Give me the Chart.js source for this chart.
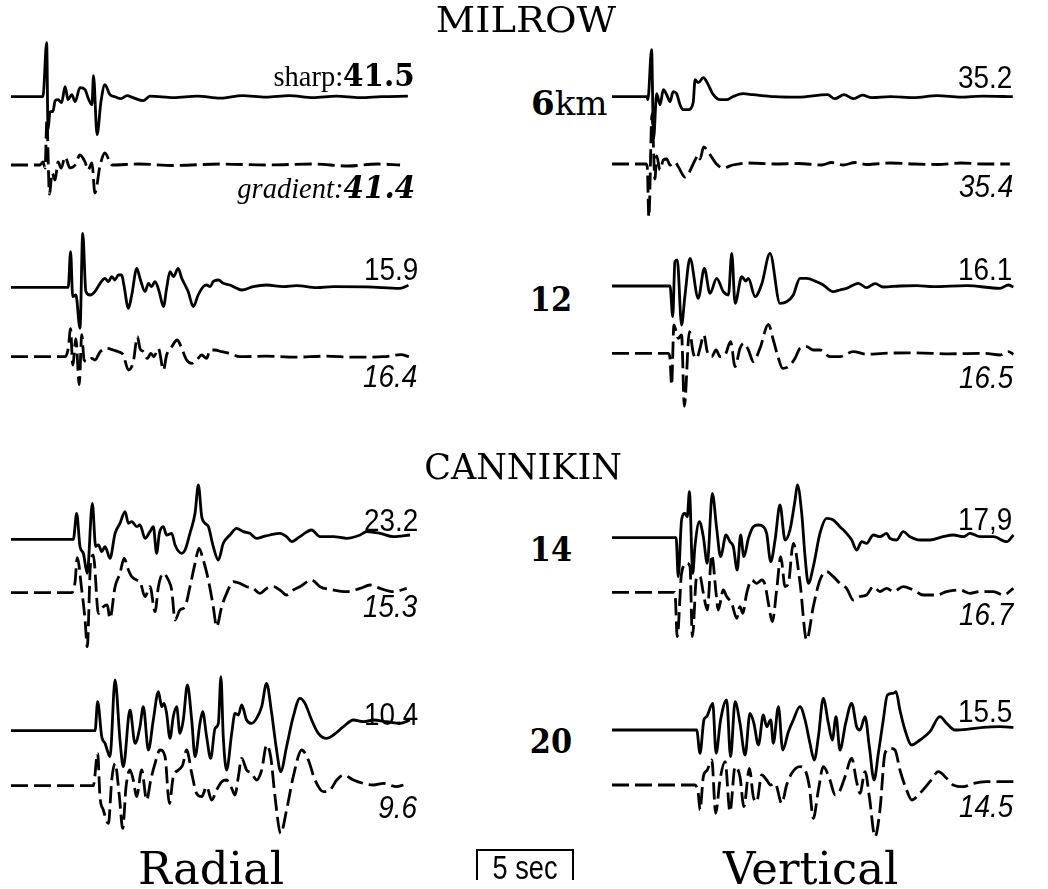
<!DOCTYPE html>
<html>
<head>
<meta charset="utf-8">
<title>MILROW / CANNIKIN synthetic seismograms</title>
<script src="https://cdn.jsdelivr.net/npm/chart.js@4.4.0/dist/chart.umd.min.js"></script>
<style>
  html, body { margin: 0; padding: 0; background: #fff; }
  #page { position: relative; width: 1048px; height: 889px; overflow: hidden; background: #fff; }
  #page canvas { position: absolute; top: 0; }
  .lbl { position: absolute; white-space: nowrap; color: #000; }
  #scalebar { position: absolute; box-sizing: border-box; border: 2px solid #000; border-bottom: none; }
</style>
</head>
<body>
<div id="page">
  <canvas id="radialChart" width="410" height="889" style="left:11px"></canvas>
  <canvas id="verticalChart" width="410" height="889" style="left:612px"></canvas>
  <div id="scalebar"></div>
</div>
<script>
// each trace: [time (s), amplitude]
// solid = sharp boundary model, dashed = gradient model

// ---- MILROW, 6 km ----
const milrow6RadialSharp = [[0,0],[1.63,0],[1.82,5.4],[1.89,-3.3],[1.99,-1.5],[2.14,-1.5],[2.25,-0.4],[2.40,-0.3],[2.58,-0.6],[2.76,1.0],[2.91,-0.3],[3.10,0.2],[3.27,-0.5],[3.52,0.9],[3.78,0.7],[3.93,-0.1],[4.13,-0.8],[4.21,2.1],[4.39,-3.8],[4.59,-0.5],[4.79,1.2],[5.05,0.2],[5.30,0],[5.61,-0.2],[5.92,0.1],[6.23,-0.1],[6.74,-0.4],[7.09,0.05],[8.3,-0.1],[9.5,0.05],[10.7,-0.15],[11.8,0.1],[13.0,-0.05],[14.2,0.1],[15.4,-0.1],[16.6,0.05],[17.8,-0.1],[18.9,0],[20.25,0.05]];
const milrow6RadialGradient = [[0,0],[1.48,0],[1.63,0.3],[1.74,-0.3],[1.83,4.5],[1.96,-2.9],[2.10,-0.8],[2.25,-1.5],[2.40,0.3],[2.56,-0.3],[2.76,0.8],[3.01,-0.3],[3.27,0],[3.52,1.0],[3.78,0.3],[3.93,-0.5],[4.13,0.2],[4.28,-2.8],[4.55,0],[4.79,1.2],[5.15,0],[6.5,0.1],[8.3,-0.05],[10.7,0.1],[13.0,0],[15.4,0.1],[17.2,-0.1],[18.7,0.1],[19.85,0]];
const milrow6VerticalSharp = [[0,0],[1.78,0],[1.83,-0.3],[2.02,4.7],[2.12,-4.2],[2.28,0.3],[2.45,-0.8],[2.62,0.7],[2.79,0.2],[2.96,-0.5],[3.12,0.5],[3.30,0.3],[3.47,-0.8],[3.63,-1.3],[3.89,-1.3],[4.14,-0.6],[4.24,1.7],[4.40,1.4],[4.66,1.9],[4.83,1.5],[5.17,0.2],[5.52,-0.3],[5.85,-0.3],[6.16,0],[6.69,0.3],[7.20,0.2],[8.3,0],[9.5,-0.05],[11.0,0.2],[11.36,-0.2],[11.84,0.2],[12.31,-0.2],[12.78,0.15],[13.26,-0.1],[14.2,0],[15.4,-0.1],[16.6,0.1],[17.8,-0.05],[18.9,0.05],[20.45,0]];
const milrow6VerticalGradient = [[0,0],[1.72,0],[1.80,-0.3],[1.88,-5.3],[2.04,5.0],[2.19,-1.5],[2.28,0.8],[2.45,-0.6],[2.62,0.4],[2.79,0.5],[2.96,-0.1],[3.21,0.2],[3.39,-0.3],[3.72,-1.3],[3.89,-1.0],[4.24,0.4],[4.40,0.9],[4.49,0.5],[4.68,1.7],[4.98,1.0],[5.33,0],[5.68,-0.4],[6.16,-0.1],[6.98,0.1],[8.3,0],[9.5,0.05],[10.7,-0.1],[11.2,0.15],[11.8,-0.1],[12.4,0.15],[13.0,-0.05],[14.2,0.1],[15.4,0],[16.6,-0.05],[17.8,0.1],[18.9,0],[20.3,0]];

// ---- MILROW, 12 km ----
const milrow12RadialSharp = [[0,0],[2.92,0],[3.04,3.57],[3.15,-0.93],[3.31,-0.77],[3.52,-4.1],[3.66,5.4],[3.82,-0.43],[4.04,-0.77],[4.28,-0.43],[4.55,0.4],[4.79,0.9],[4.97,0.57],[5.14,1.07],[5.30,0.73],[5.48,1.23],[5.65,1.23],[5.76,0.23],[5.99,-2.1],[6.16,-0.77],[6.42,1.9],[6.58,0.9],[6.84,-0.43],[7.01,0.4],[7.17,0.07],[7.35,0.57],[7.56,-0.43],[7.78,-1.93],[7.94,-0.1],[8.11,1.57],[8.29,1.07],[8.53,1.9],[8.71,0.9],[8.88,0.23],[9.04,-0.43],[9.30,-1.93],[9.55,-0.77],[9.81,0.07],[9.98,0.23],[10.16,0.07],[10.32,0.57],[10.58,0.73],[10.83,0.4],[11.17,0.23],[11.52,-0.1],[11.77,-0.27],[12.36,0.07],[13.04,0.23],[13.90,0.07],[14.57,0.17],[15.60,-0.03],[16.45,0.07],[18.15,0.05],[19.85,-0.1],[20.28,0.2]];
const milrow12RadialGradient = [[0,0],[2.76,0],[2.92,0.83],[3.04,2.8],[3.15,-0.83],[3.31,1.8],[3.48,-2.8],[3.61,2.2],[3.73,-0.33],[3.89,-0.5],[4.12,-0.17],[4.28,-0.33],[4.55,0.5],[4.88,0.83],[5.21,0.67],[5.48,0.5],[5.73,0.17],[5.99,-1.33],[6.24,-0.5],[6.45,2.0],[6.58,0.83],[6.75,0.5],[6.96,-0.17],[7.13,0.33],[7.29,0],[7.52,0.83],[7.78,-1.33],[7.94,0.17],[8.20,1.0],[8.48,1.67],[8.71,0.83],[8.96,-0.33],[9.22,-0.67],[9.47,-0.33],[9.73,0.17],[9.98,-0.17],[10.16,0.67],[10.40,0.67],[10.75,0.5],[11.17,0.33],[11.68,0],[13.0,0.05],[14.5,-0.05],[16.0,0.05],[17.5,-0.05],[19.0,0],[19.9,0.2],[20.3,0]];
const milrow12VerticalSharp = [[0,0],[2.96,0],[3.10,-3.07],[3.21,2.43],[3.33,2.6],[3.55,-3.9],[3.72,-1.0],[3.98,2.77],[4.40,-1.23],[4.71,1.77],[5.0,-0.73],[5.34,0.77],[5.68,-0.57],[5.94,-0.9],[6.11,3.27],[6.28,-1.73],[6.62,0.93],[6.82,0.5],[6.96,0.77],[7.30,-1.07],[7.64,0.2],[8.06,3.27],[8.57,-1.73],[8.91,-1.57],[9.25,-0.9],[9.59,0.77],[9.93,0.77],[10.44,0.43],[10.78,0.1],[11.29,-0.57],[11.63,-0.4],[11.97,-0.23],[12.57,0.27],[12.99,-0.17],[13.42,0.23],[13.84,-0.1],[14.69,0],[15.54,0.03],[16.39,-0.07],[18.10,0.03],[19.80,-0.23],[20.22,0.1],[20.48,-0.1]];
const milrow12VerticalGradient = [[0,0],[2.87,0],[2.96,-0.5],[3.04,-3.17],[3.16,2.83],[3.38,1.5],[3.55,1.83],[3.69,-5.3],[3.95,2.17],[4.15,0],[4.32,-0.5],[4.49,0.5],[4.69,1.83],[4.86,0.17],[5.09,-0.33],[5.31,0.33],[5.51,-0.33],[5.77,-0.17],[6.05,1.17],[6.28,-1.33],[6.53,0.5],[6.73,1.0],[6.96,0.33],[7.21,-0.83],[7.55,0.5],[7.98,2.9],[8.23,1.33],[8.49,-0.5],[8.71,-1.5],[9.00,-1.33],[9.34,-0.5],[9.59,0.5],[9.93,0.67],[10.27,0.33],[10.61,0.33],[11.12,-0.33],[11.63,-0.33],[12.31,0.17],[12.99,-0.1],[13.84,0],[15.5,0.05],[17.2,-0.05],[19.0,0],[19.80,-0.17],[20.22,0.17],[20.48,-0.1]];

// ---- CANNIKIN, 14 km ----
const cannikin14RadialSharp = [[0,0],[3.18,0],[3.35,2.6],[3.52,-0.73],[3.69,-1.4],[3.89,-3.4],[4.15,3.6],[4.32,-0.73],[4.46,-0.57],[4.63,-1.23],[4.80,-0.73],[5.05,-1.9],[5.31,0.6],[5.56,1.6],[5.82,2.77],[5.99,1.6],[6.16,1.77],[6.41,1.27],[6.58,1.43],[6.84,0.1],[7.09,0.77],[7.26,1.27],[7.43,-1.4],[7.57,0.6],[7.77,1.27],[7.94,0.43],[8.20,0.6],[8.37,-0.57],[8.71,-1.4],[8.88,-1.07],[9.13,0.6],[9.39,2.6],[9.56,5.43],[9.73,2.27],[9.90,1.6],[10.07,1.27],[10.32,-0.73],[10.58,-2.07],[10.83,-0.4],[11.17,0.43],[11.51,1.1],[11.85,0.77],[12.19,0.6],[12.53,0.1],[12.87,0.27],[13.21,0.43],[13.72,0.6],[14.06,0.27],[14.32,-0.23],[14.74,0.27],[15.34,0.93],[15.77,0.27],[16.45,0.27],[17.13,0.1],[17.81,0.43],[18.15,0.77],[18.83,0.6],[19.51,0.27],[20.36,0.43]];
const cannikin14RadialGradient = [[0,0],[3.10,0],[3.27,1.1],[3.38,3.5],[3.61,0.27],[3.78,-2.73],[3.89,-5.4],[4.06,3.0],[4.20,3.77],[4.46,-2.07],[4.71,-1.4],[4.91,-1.23],[5.05,-2.57],[5.31,0.6],[5.56,1.93],[5.77,3.43],[5.99,2.27],[6.16,1.6],[6.41,1.27],[6.58,1.1],[6.84,-0.4],[7.09,0.6],[7.35,-1.9],[7.52,0.6],[7.77,1.93],[8.03,1.27],[8.20,0.27],[8.37,-2.73],[8.62,-1.73],[8.88,-1.4],[9.13,0.6],[9.39,2.93],[9.59,4.43],[9.81,3.27],[10.07,1.27],[10.32,-1.4],[10.49,-3.4],[10.75,-1.4],[11.00,-0.07],[11.34,1.1],[11.68,0.93],[12.02,0.6],[12.36,0.43],[12.70,-0.07],[13.04,0.43],[13.38,0.6],[13.72,0.27],[14.06,-0.23],[14.40,0.27],[14.74,0.6],[15.34,1.27],[15.77,0.6],[16.45,0.27],[17.13,0.1],[17.81,0.43],[18.32,0.77],[18.83,0.43],[19.51,0.1],[20.19,0.43]];
const cannikin14VerticalSharp = [[0,0],[3.27,0],[3.38,-3.9],[3.55,1.77],[3.72,2.43],[3.84,2.1],[3.95,4.6],[4.12,-3.57],[4.23,-0.9],[4.46,1.6],[4.66,0.1],[4.86,-2.57],[5.12,4.43],[5.34,0.93],[5.54,-1.9],[5.82,0.27],[6.02,-0.4],[6.19,-0.9],[6.39,-3.23],[6.56,0.27],[6.73,-1.9],[6.96,-0.07],[7.21,1.1],[7.47,1.27],[7.72,1.1],[7.89,0.43],[8.10,-2.4],[8.32,-0.23],[8.57,3.27],[8.83,-0.23],[9.08,0.77],[9.34,3.77],[9.46,5.27],[9.68,2.43],[9.85,-1.9],[10.02,-4.57],[10.27,-2.9],[10.61,0.43],[10.95,1.93],[11.29,1.77],[11.63,1.1],[11.97,0.43],[12.23,-0.23],[12.48,-1.23],[12.74,-0.4],[12.99,-0.57],[13.33,0.27],[13.67,0.1],[14.01,0.43],[14.18,-0.07],[14.52,-0.23],[14.86,0.6],[15.20,0.1],[15.71,-0.23],[16.22,-0.23],[16.90,0.1],[17.41,0.27],[17.93,0.1],[18.27,0.43],[18.78,0.1],[19.46,0.1],[20.14,-0.4],[20.48,0.27]];
const cannikin14VerticalGradient = [[0,0],[3.21,0],[3.33,-4.43],[3.55,1.9],[3.81,2.9],[3.98,2.57],[4.10,-4.43],[4.32,1.57],[4.49,1.57],[4.66,-0.1],[4.86,-1.77],[5.09,3.73],[5.31,-0.1],[5.42,-1.77],[5.68,0.23],[5.85,-0.43],[6.11,-1.1],[6.36,-2.6],[6.53,-1.43],[6.67,-2.1],[6.87,-0.1],[7.13,1.23],[7.38,0.9],[7.64,1.23],[7.81,0.73],[7.98,-1.1],[8.18,-2.93],[8.40,0.23],[8.61,3.57],[8.83,0.57],[9.00,0.9],[9.25,4.9],[9.59,1.0],[9.93,-4.77],[10.27,-1.43],[10.61,1.23],[10.95,2.07],[11.29,1.57],[11.63,0.9],[11.97,0.4],[12.31,-0.77],[12.65,-0.43],[12.99,-0.27],[13.33,0.57],[13.67,0.07],[14.01,0.4],[14.35,0.07],[14.86,0.57],[15.37,0.23],[15.88,-0.27],[16.56,-0.27],[17.07,0.07],[17.76,0.23],[18.27,-0.1],[18.78,0.07],[19.46,0.07],[19.97,-0.27],[20.48,0.4]];

// ---- CANNIKIN, 20 km ----
const cannikin20RadialSharp = [[0,0],[4.29,0],[4.42,2.9],[4.63,-0.6],[4.80,-1.27],[5.05,-2.6],[5.31,5.07],[5.56,-0.93],[5.73,-3.6],[6.07,2.07],[6.33,-1.27],[6.58,0.4],[6.75,2.4],[7.01,-1.93],[7.26,1.07],[7.52,3.9],[7.69,2.4],[7.81,2.73],[7.94,1.73],[8.11,-0.77],[8.28,1.4],[8.45,2.4],[8.62,-0.27],[8.79,1.07],[9.00,4.57],[9.22,1.07],[9.39,-2.6],[9.64,0.73],[9.78,1.9],[9.98,-0.6],[10.19,-2.77],[10.41,0.23],[10.58,0.73],[10.71,5.4],[10.83,-0.6],[11.00,-3.93],[11.26,-0.27],[11.43,1.73],[11.60,1.57],[11.77,2.57],[12.02,1.07],[12.28,0.73],[12.53,1.23],[12.79,2.4],[13.04,4.73],[13.30,1.73],[13.55,-1.93],[13.76,-4.1],[14.06,-1.6],[14.40,1.4],[14.74,3.23],[15.0,2.73],[15.34,1.07],[15.68,-0.27],[16.11,-0.77],[16.45,-0.43],[16.96,0.4],[17.47,1.07],[17.98,0.9],[18.49,1.07],[19.17,0.9],[19.85,0.73],[20.36,1.07]];
const cannikin20RadialGradient = [[0,0],[4.20,0],[4.42,3.23],[4.54,-1.1],[4.71,-2.43],[4.97,-3.77],[5.14,0.57],[5.31,2.23],[5.53,-1.1],[5.70,-4.27],[5.87,-0.1],[6.07,1.57],[6.24,0.57],[6.41,-1.1],[6.67,1.57],[6.92,-1.43],[7.13,0.57],[7.35,2.23],[7.60,3.57],[7.86,2.9],[8.08,-1.77],[8.28,0.9],[8.54,1.57],[8.76,2.07],[8.96,3.57],[9.22,1.23],[9.47,-0.77],[9.73,-1.1],[9.98,-0.1],[10.24,-1.43],[10.49,-0.43],[10.75,0.4],[11.00,0.57],[11.26,-0.27],[11.43,-0.93],[11.60,0.9],[11.77,2.73],[12.02,1.57],[12.28,1.23],[12.53,0.57],[12.79,1.57],[13.04,4.07],[13.25,2.9],[13.47,-1.1],[13.76,-4.77],[14.06,-2.43],[14.40,0.9],[14.83,3.57],[15.17,2.57],[15.51,0.57],[15.94,-0.6],[16.28,-0.43],[16.62,0.57],[16.96,1.07],[17.47,0.57],[17.98,0.23],[18.49,0.07],[19.00,0.23],[19.68,-0.1],[20.02,0.07]];
const cannikin20VerticalSharp = [[0,0],[4.32,0],[4.49,-2.33],[4.69,1.0],[4.83,1.33],[5.14,2.67],[5.31,-2.33],[5.54,1.0],[5.85,3.0],[6.05,-2.67],[6.28,2.83],[6.53,0.67],[6.79,-2.5],[7.04,1.67],[7.24,0.67],[7.47,-1.5],[7.72,1.5],[7.89,0.33],[8.10,1.0],[8.23,-1.33],[8.49,2.33],[8.71,-2.0],[9.00,-0.17],[9.25,1.0],[9.59,2.33],[9.85,1.0],[10.10,-1.33],[10.32,-3.0],[10.53,-0.67],[10.78,3.17],[11.04,0.67],[11.24,-1.0],[11.43,1.33],[11.63,-2.0],[11.92,0.67],[12.23,2.67],[12.48,0.33],[12.65,0],[12.91,1.33],[13.13,-1.67],[13.37,-5.0],[13.59,-2.33],[13.84,1.0],[14.05,3.5],[14.35,3.67],[14.49,3.83],[14.69,2.0],[14.95,0],[15.29,-1.5],[15.71,-1.0],[16.22,-0.17],[16.73,1.33],[17.07,0.67],[17.50,0],[18.10,0.07],[18.95,0.27],[19.80,0.33],[20.48,0.27]];
const cannikin20VerticalGradient = [[0,0],[4.23,0],[4.40,-0.83],[4.49,-2.5],[4.66,0.83],[4.86,1.5],[5.09,2.5],[5.29,-2.83],[5.51,0.5],[5.77,2.33],[6.02,-2.67],[6.28,1.83],[6.53,0.83],[6.73,-2.17],[7.01,1.67],[7.21,-1.17],[7.38,-1.67],[7.64,1.0],[7.89,0.5],[8.10,0],[8.32,0.17],[8.66,-1.83],[8.91,0],[9.17,1.17],[9.59,1.83],[9.85,1.5],[10.07,-0.17],[10.27,-3.33],[10.53,-0.5],[10.78,1.83],[11.12,0.5],[11.38,-1.0],[11.60,-0.67],[11.89,0.83],[12.23,2.67],[12.48,0.33],[12.65,-0.83],[12.91,1.33],[13.13,-1.17],[13.42,-5.17],[13.67,-2.5],[13.93,3.17],[14.18,3.67],[14.44,3.5],[14.69,1.5],[15.03,-0.5],[15.29,-1.5],[15.71,-0.83],[16.22,0.33],[16.65,1.33],[17.07,0.67],[17.41,0],[17.93,-0.17],[18.44,0.17],[19.12,0.33],[19.80,0.33],[20.48,0.33]];

// labels
const eventNames = ['MILROW', 'CANNIKIN'];
const distancesKm = ['6', '12', '14', '20'];
const radialSharpFit = ['41.5', '15.9', '23.2', '10.4'];
const radialGradientFit = ['41.4', '16.4', '15.3', '9.6'];
const verticalSharpFit = ['35.2', '16.1', '17,9', '15.5'];
const verticalGradientFit = ['35.4', '16.5', '16.7', '14.5'];
const componentNames = ['Radial', 'Vertical'];
const scaleBarSeconds = 5;

// ---- layout ----
const PAGE_W = 1048, PAGE_H = 889;
const PX_PER_SEC = 19.6;   // from the 5 sec bar
const AMP_PX = 10;         // pixels per amplitude unit

// zero lines of each trace, px from top
const radialRows = { solid: [96.7, 287.3, 539.3, 730.7], dashed: [165, 356.7, 592.7, 785.7] };
const verticalRows = { solid: [96.7, 286, 537.7, 730], dashed: [164, 353.3, 592.3, 785] };

function traceDataset(points, zeroPx, dashed) {
    return {
        data: points.map(([t, a]) => ({ x: t, y: a - zeroPx / AMP_PX })),
        borderColor: '#000',
        borderWidth: 2.8,
        borderDash: dashed ? [17, 6] : [],
        borderJoinStyle: 'round',
        pointRadius: 0,
        cubicInterpolationMode: 'monotone',
        fill: false,
        clip: false
    };
}

function drawColumn(canvasId, sharpTraces, gradientTraces, rows) {
    const canvas = document.getElementById(canvasId);
    const datasets = [];
    sharpTraces.forEach((tr, i) => datasets.push(traceDataset(tr, rows.solid[i], false)));
    gradientTraces.forEach((tr, i) => datasets.push(traceDataset(tr, rows.dashed[i], true)));

    return new Chart(canvas, {
        type: 'line',
        data: { datasets: datasets },
        options: {
            responsive: false,
            animation: false,
            events: [],
            layout: { padding: 0 },
            plugins: { legend: { display: false }, tooltip: { enabled: false }, title: { display: false } },
            scales: {
                x: { type: 'linear', display: false, min: 0, max: canvas.width / PX_PER_SEC },
                y: { type: 'linear', display: false, min: -PAGE_H / AMP_PX, max: 0 }
            }
        }
    });
}

drawColumn('radialChart',
    [milrow6RadialSharp, milrow12RadialSharp, cannikin14RadialSharp, cannikin20RadialSharp],
    [milrow6RadialGradient, milrow12RadialGradient, cannikin14RadialGradient, cannikin20RadialGradient],
    radialRows);
drawColumn('verticalChart',
    [milrow6VerticalSharp, milrow12VerticalSharp, cannikin14VerticalSharp, cannikin20VerticalSharp],
    [milrow6VerticalGradient, milrow12VerticalGradient, cannikin14VerticalGradient, cannikin20VerticalGradient],
    verticalRows);

// ---- text ----
const page = document.getElementById('page');
const SERIF = "'DejaVu Serif', serif";
const SANS = "'Liberation Sans', Arial, sans-serif";

function addText(html, x, baseline, o) {
    const el = document.createElement('div');
    el.className = 'lbl';
    el.innerHTML = html;
    el.style.font = `${o.style || 'normal'} ${o.weight || 'normal'} ${o.size}px/1 ${o.family}`;
    el.style.top = (baseline - 0.846 * o.size) + 'px';
    const sx = o.scaleX || 1;
    if (o.align === 'right') {
        el.style.right = (PAGE_W - x) + 'px';
        el.style.transformOrigin = 'right center';
        el.style.transform = `scaleX(${sx})`;
    } else if (o.align === 'center') {
        el.style.left = x + 'px';
        el.style.transform = `translateX(-50%) scaleX(${sx})`;
    } else {
        el.style.left = x + 'px';
        el.style.transformOrigin = 'left center';
        el.style.transform = `scaleX(${sx})`;
    }
    page.appendChild(el);
    return el;
}

// event titles
addText(eventNames[0], 526, 33, { size: 35, family: SERIF, align: 'center', scaleX: 1.1 });
addText(eventNames[1], 523, 480, { size: 35, family: SERIF, align: 'center', scaleX: 1.0 });

// distances
addText(`<b>${distancesKm[0]}</b>km`, 531, 115, { size: 34, family: SERIF });
const distBaselines = [311, 561, 753];
distancesKm.slice(1).forEach((d, i) => {
    addText(d, 551, distBaselines[i], { size: 33, weight: 'bold', family: SERIF, align: 'center', scaleX: 0.92 });
});

// fit numbers at the right end of each trace
const numFont = { size: 31, family: SANS, align: 'right', scaleX: 0.9 };
const numFontIt = Object.assign({}, numFont, { style: 'italic' });
const radialLabelBase = { solid: [86, 280, 531, 725], dashed: [198, 387, 617, 818] };
const verticalLabelBase = { solid: [88, 280, 530, 722], dashed: [197, 388, 625, 817] };

addText(`<span style="font:30px/1 'Liberation Serif',serif">sharp:</span><span style="font:bold 31px/1 ${SERIF}">${radialSharpFit[0]}</span>`,
    415, radialLabelBase.solid[0], { size: 31, family: SERIF, align: 'right', scaleX: 0.95 });
addText(`<span style="font:italic 30px/1 'Liberation Serif',serif">gradient:</span><span style="font:italic bold 31px/1 ${SERIF}">${radialGradientFit[0]}</span>`,
    415, radialLabelBase.dashed[0], { size: 31, family: SERIF, align: 'right', scaleX: 0.95 });
for (let i = 1; i < 4; i++) {
    addText(radialSharpFit[i], 418, radialLabelBase.solid[i], numFont);
    addText(radialGradientFit[i], 417, radialLabelBase.dashed[i], numFontIt);
}
for (let i = 0; i < 4; i++) {
    addText(verticalSharpFit[i], 1012, verticalLabelBase.solid[i], numFont);
    addText(verticalGradientFit[i], 1013, verticalLabelBase.dashed[i], numFontIt);
}

// component names and time scale
addText(componentNames[0], 138, 884, { size: 45, family: SERIF, scaleX: 1.0 });
addText(componentNames[1], 723, 884, { size: 45, family: SERIF });

const bar = document.getElementById('scalebar');
bar.style.left = '476px';
bar.style.top = '849px';
bar.style.width = (scaleBarSeconds * PX_PER_SEC) + 'px';
bar.style.height = '31px';
addText(`${scaleBarSeconds} sec`, 476 + scaleBarSeconds * PX_PER_SEC / 2, 879, { size: 34, family: SANS, align: 'center', scaleX: 0.8 });
</script>
</body>
</html>
